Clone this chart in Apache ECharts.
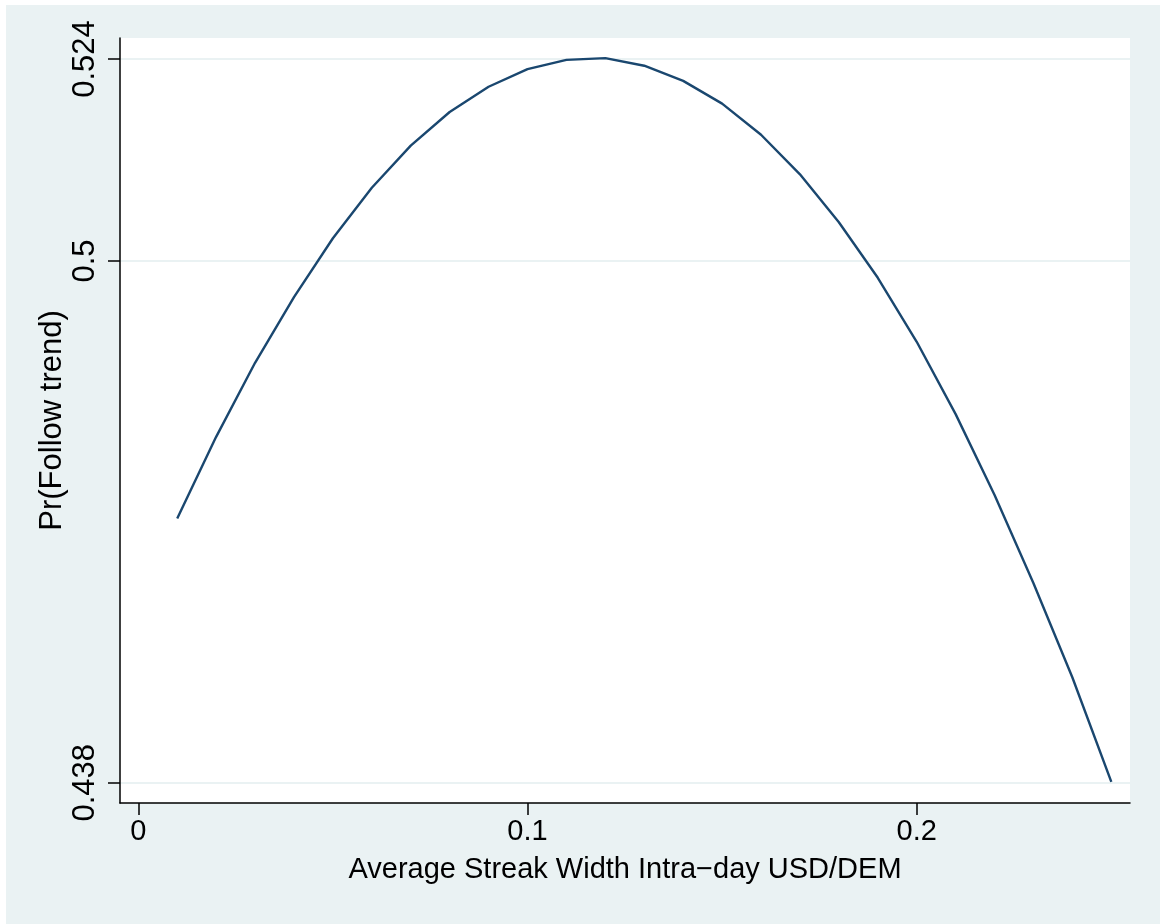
<!DOCTYPE html>
<html>
<head>
<meta charset="utf-8">
<script src="https://cdn.jsdelivr.net/npm/echarts@6/dist/echarts.min.js"></script>
<style>
html,body{margin:0;padding:0;background:#ffffff;}
#chart{position:absolute;left:6px;top:5px;width:1154px;height:919px;}
</style>
</head>
<body>
<div id="chart"></div>
<script>
// Data
const streakWidth = [0.01,0.02,0.03,0.04,0.05,0.06,0.07,0.08,0.09,0.10,0.11,0.12,0.13,
                     0.14,0.15,0.16,0.17,0.18,0.19,0.20,0.21,0.22,0.23,0.24,0.25];
const prFollow = [0.4694,0.4791,0.4879,0.4957,0.5027,0.5087,0.5137,0.5177,0.5207,0.5228,
                  0.5239,0.5241,0.5232,0.5214,0.5187,0.5150,0.5103,0.5046,0.4980,0.4904,
                  0.4818,0.4722,0.4617,0.4505,0.4381];
const yTicks = [0.438, 0.5, 0.524];
const xTicks = [0, 0.1, 0.2];
const xTitle = 'Average Streak Width Intra\u2212day USD/DEM';
const yTitle = 'Pr(Follow trend)';

const FONT = '"Liberation Sans", Arial, Helvetica, sans-serif';
const chart = echarts.init(document.getElementById('chart'), null, {renderer:'canvas'});
chart.setOption({
  backgroundColor: '#EAF2F3',
  animation: false,
  grid: {left: 114, top: 33, right: 30, bottom: 121, show: true, backgroundColor: '#ffffff', borderWidth: 0},
  xAxis: {
    type: 'value', min: -0.0047, max: 0.2548,
    name: xTitle, nameLocation: 'middle', nameGap: 52,
    nameTextStyle: {fontFamily: FONT, fontSize: 29, color: '#000'},
    axisLine: {show: true, onZero: false, lineStyle: {color: '#000', width: 1.5}},
    axisTick: {show: true, length: 12, lineStyle: {color: '#000', width: 1.5}, customValues: xTicks},
    axisLabel: {fontFamily: FONT, fontSize: 29, color: '#000', margin: 14, customValues: xTicks,
                formatter: v => String(v)},
    splitLine: {show: false}
  },
  yAxis: {
    type: 'value', min: 0.435588, max: 0.526496,
    name: yTitle, nameLocation: 'middle', nameGap: 52, nameRotate: 90, nameMoveOverlap: false,
    nameTextStyle: {fontFamily: FONT, fontSize: 31, color: '#000'},
    axisLine: {show: true, onZero: false, lineStyle: {color: '#000', width: 1.5}},
    axisTick: {show: true, length: 12, lineStyle: {color: '#000', width: 1.5}, customValues: yTicks},
    axisLabel: {fontFamily: FONT, fontSize: 31, color: '#000', margin: 19, rotate: 90, customValues: yTicks,
                formatter: v => String(v)},
    splitLine: {show: true, lineStyle: {color: '#EAF2F3', width: 2}}
  },
  series: [{
    type: 'line',
    data: streakWidth.map((x, i) => [x, prFollow[i]]),
    showSymbol: false,
    lineStyle: {color: '#1a476f', width: 2.4},
    clip: false
  }]
});
</script>
</body>
</html>
